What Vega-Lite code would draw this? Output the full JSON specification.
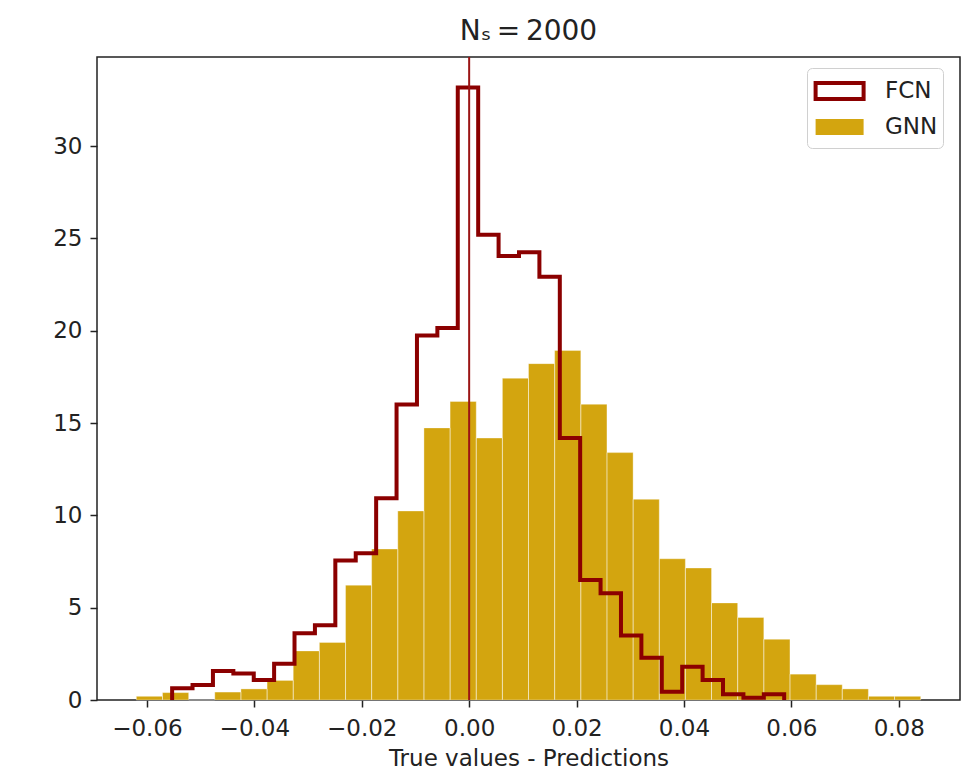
{
  "$schema": "https://vega.github.io/schema/vega-lite/v6.json",
  "width": 863,
  "height": 643,
  "autosize": {"type": "none"},
  "padding": {"left": 97, "top": 57, "right": 5, "bottom": 70},
  "background": "#ffffff",
  "title": {
    "text": "Nₛ\u2009=\u20092000",
    "frame": "group",
    "anchor": "middle",
    "font": "DejaVu Sans",
    "fontSize": 28,
    "fontWeight": "normal",
    "color": "#222222",
    "baseline": "alphabetic",
    "offset": -12
  },
  "config": {
    "view": {"stroke": "#222222", "strokeWidth": 1.5},
    "axis": {
      "labelFont": "DejaVu Sans",
      "labelFontSize": 23,
      "labelColor": "#222222",
      "titleFont": "DejaVu Sans",
      "titleFontSize": 23,
      "titleFontWeight": "normal",
      "titleColor": "#222222",
      "tickColor": "#222222",
      "tickWidth": 1.5,
      "tickSize": 7,
      "domain": false,
      "grid": false
    }
  },
  "datasets": {
    "gnn": [
      {"model": "GNN", "start": -0.06197, "end": -0.05710, "density": 0.2},
      {"model": "GNN", "start": -0.05710, "end": -0.05223, "density": 0.4},
      {"model": "GNN", "start": -0.05223, "end": -0.04737, "density": 0},
      {"model": "GNN", "start": -0.04737, "end": -0.04250, "density": 0.43},
      {"model": "GNN", "start": -0.04250, "end": -0.03763, "density": 0.6},
      {"model": "GNN", "start": -0.03763, "end": -0.03276, "density": 1.06},
      {"model": "GNN", "start": -0.03276, "end": -0.02789, "density": 2.66},
      {"model": "GNN", "start": -0.02789, "end": -0.02302, "density": 3.12},
      {"model": "GNN", "start": -0.02302, "end": -0.01816, "density": 6.22},
      {"model": "GNN", "start": -0.01816, "end": -0.01329, "density": 8.18},
      {"model": "GNN", "start": -0.01329, "end": -0.00842, "density": 10.24},
      {"model": "GNN", "start": -0.00842, "end": -0.00355, "density": 14.74},
      {"model": "GNN", "start": -0.00355, "end": 0.00132, "density": 16.17},
      {"model": "GNN", "start": 0.00132, "end": 0.00619, "density": 14.19},
      {"model": "GNN", "start": 0.00619, "end": 0.01105, "density": 17.43},
      {"model": "GNN", "start": 0.01105, "end": 0.01592, "density": 18.22},
      {"model": "GNN", "start": 0.01592, "end": 0.02079, "density": 18.93},
      {"model": "GNN", "start": 0.02079, "end": 0.02566, "density": 16.02},
      {"model": "GNN", "start": 0.02566, "end": 0.03053, "density": 13.4},
      {"model": "GNN", "start": 0.03053, "end": 0.03540, "density": 10.87},
      {"model": "GNN", "start": 0.03540, "end": 0.04026, "density": 7.65},
      {"model": "GNN", "start": 0.04026, "end": 0.04513, "density": 7.15},
      {"model": "GNN", "start": 0.04513, "end": 0.05000, "density": 5.26},
      {"model": "GNN", "start": 0.05000, "end": 0.05487, "density": 4.47},
      {"model": "GNN", "start": 0.05487, "end": 0.05974, "density": 3.29},
      {"model": "GNN", "start": 0.05974, "end": 0.06461, "density": 1.4},
      {"model": "GNN", "start": 0.06461, "end": 0.06947, "density": 0.83},
      {"model": "GNN", "start": 0.06947, "end": 0.07434, "density": 0.6},
      {"model": "GNN", "start": 0.07434, "end": 0.07921, "density": 0.2},
      {"model": "GNN", "start": 0.07921, "end": 0.08408, "density": 0.2}
    ],
    "fcn": [
      {"i": 0, "x": -0.05531, "density": 0},
      {"i": 1, "x": -0.05531, "density": 0.63},
      {"i": 2, "x": -0.05151, "density": 0.81},
      {"i": 3, "x": -0.04771, "density": 1.57},
      {"i": 4, "x": -0.04391, "density": 1.43},
      {"i": 5, "x": -0.04011, "density": 1.08},
      {"i": 6, "x": -0.03632, "density": 1.97},
      {"i": 7, "x": -0.03252, "density": 3.61},
      {"i": 8, "x": -0.02872, "density": 4.05},
      {"i": 9, "x": -0.02492, "density": 7.56},
      {"i": 10, "x": -0.02112, "density": 7.95},
      {"i": 11, "x": -0.01732, "density": 10.93},
      {"i": 12, "x": -0.01352, "density": 16.0},
      {"i": 13, "x": -0.00972, "density": 19.75},
      {"i": 14, "x": -0.00592, "density": 20.15},
      {"i": 15, "x": -0.00212, "density": 33.18},
      {"i": 16, "x": 0.00168, "density": 25.2},
      {"i": 17, "x": 0.00548, "density": 24.05},
      {"i": 18, "x": 0.00928, "density": 24.25},
      {"i": 19, "x": 0.01308, "density": 22.93},
      {"i": 20, "x": 0.01688, "density": 14.19},
      {"i": 21, "x": 0.02067, "density": 6.5},
      {"i": 22, "x": 0.02447, "density": 5.78},
      {"i": 23, "x": 0.02827, "density": 3.5},
      {"i": 24, "x": 0.03207, "density": 2.29},
      {"i": 25, "x": 0.03587, "density": 0.45},
      {"i": 26, "x": 0.03967, "density": 1.8},
      {"i": 27, "x": 0.04347, "density": 1.08},
      {"i": 28, "x": 0.04727, "density": 0.31},
      {"i": 29, "x": 0.05107, "density": 0.12},
      {"i": 30, "x": 0.05487, "density": 0.31},
      {"i": 31, "x": 0.05866, "density": 0}
    ],
    "zero": [{"x": 0}]
  },
  "layer": [
    {
      "data": {"name": "gnn"},
      "mark": {"type": "rect", "strokeWidth": 1},
      "encoding": {
        "x": {
          "field": "start",
          "type": "quantitative",
          "scale": {"domain": [-0.0693, 0.0914], "nice": false, "zero": false},
          "axis": {
            "values": [-0.06, -0.04, -0.02, 0, 0.02, 0.04, 0.06, 0.08],
            "format": ".2f",
            "labelPadding": 10,
            "title": "True values - Predictions",
            "titlePadding": 7
          }
        },
        "x2": {"field": "end"},
        "y": {
          "field": "density",
          "type": "quantitative",
          "scale": {"domain": [0, 34.83], "nice": false},
          "axis": {
            "values": [0, 5, 10, 15, 20, 25, 30],
            "format": "d",
            "labelPadding": 8,
            "title": null
          }
        },
        "y2": {"datum": 0},
        "fill": {
          "field": "model",
          "type": "nominal",
          "scale": {"domain": ["FCN", "GNN"], "range": ["#ffffff", "#d3a50f"]},
          "legend": {
            "title": null,
            "orient": "none",
            "legendX": 710,
            "legendY": 11,
            "symbolType": "M-0.9,-0.5H2.1V0.5H-0.9Z",
            "symbolSize": 1024,
            "symbolStrokeWidth": 4,
            "labelFont": "DejaVu Sans",
            "labelFontSize": 23,
            "labelColor": "#222222",
            "labelOffset": 37,
            "fillColor": "#ffffff",
            "strokeColor": "#d0d0d0",
            "cornerRadius": 5,
            "padding": 5,
            "rowPadding": 2
          }
        },
        "stroke": {
          "field": "model",
          "type": "nominal",
          "scale": {"domain": ["FCN", "GNN"], "range": ["#8b0000", "transparent"]},
          "legend": {
            "title": null,
            "orient": "none",
            "legendX": 710,
            "legendY": 11,
            "symbolType": "M-0.9,-0.5H2.1V0.5H-0.9Z",
            "symbolSize": 1024,
            "symbolStrokeWidth": 4,
            "labelFont": "DejaVu Sans",
            "labelFontSize": 23,
            "labelColor": "#222222",
            "labelOffset": 37,
            "fillColor": "#ffffff",
            "strokeColor": "#d0d0d0",
            "cornerRadius": 5,
            "padding": 5,
            "rowPadding": 2
          }
        }
      }
    },
    {
      "data": {"name": "gnn"},
      "mark": {"type": "rect", "fill": "transparent", "stroke": "#ffffff", "strokeOpacity": 0.35, "strokeWidth": 1},
      "encoding": {
        "x": {"field": "start", "type": "quantitative"},
        "x2": {"field": "end"},
        "y": {"field": "density", "type": "quantitative"},
        "y2": {"datum": 0}
      }
    },
    {
      "data": {"name": "fcn"},
      "mark": {"type": "line", "interpolate": "step-after", "stroke": "#8b0000", "strokeWidth": 4, "strokeJoin": "miter"},
      "encoding": {
        "x": {"field": "x", "type": "quantitative"},
        "y": {"field": "density", "type": "quantitative"},
        "order": {"field": "i", "type": "quantitative"}
      }
    },
    {
      "data": {"name": "zero"},
      "mark": {"type": "rule", "stroke": "#9b1414", "strokeWidth": 2},
      "encoding": {
        "x": {"field": "x", "type": "quantitative"}
      }
    }
  ]
}
